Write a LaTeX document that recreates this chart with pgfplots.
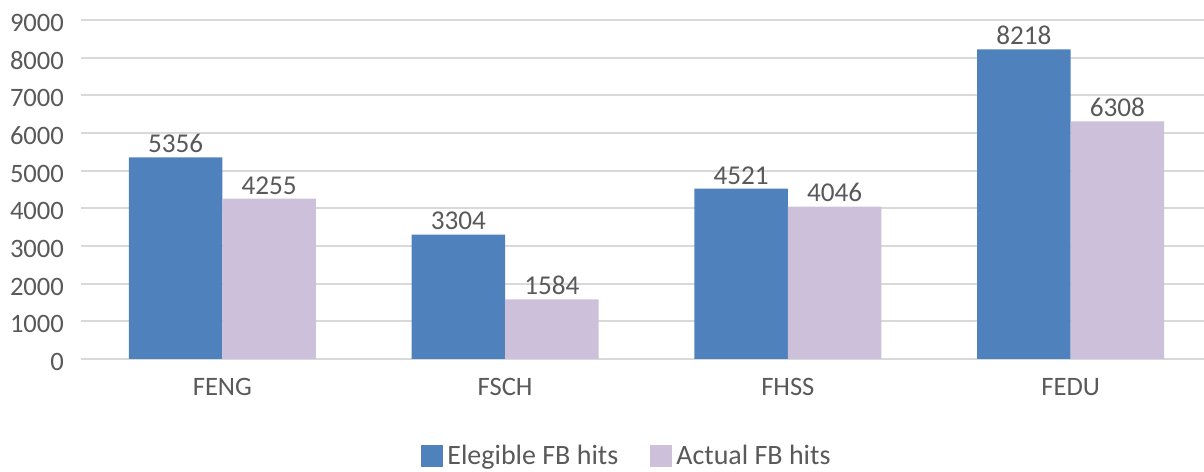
\documentclass[border=0pt]{standalone}
\usepackage{pgfplots}
\pgfplotsset{compat=1.18}
\usepackage{fontspec}
\setmainfont{Carlito}
\definecolor{cblue}{HTML}{4F81BD}
\definecolor{cpurp}{HTML}{CCC0DA}
\definecolor{cgrid}{HTML}{D9D9D9}
\definecolor{ctext}{HTML}{595959}
\begin{document}
\begin{tikzpicture}
\begin{axis}[
  scale only axis, width=565.5pt, height=169.5pt,
  xmin=-0.5, xmax=3.5, ymin=0, ymax=9000,
  ybar=0pt, bar width=46.75pt,
  xtick={0,1,2,3}, xticklabels={FENG,FSCH,FHSS,FEDU},
  ytick={0,1000,...,9000},
  axis line style={draw=none}, major tick length=0pt,
  ymajorgrids, grid style={cgrid, line width=1pt},
  tick label style={font=\fontsize{13.3}{15}\selectfont, text=ctext},
  xticklabel style={yshift=-6pt},
  yticklabel style={xshift=-5pt, yshift=-1.5pt},
  /pgf/number format/assume math mode=true,
  /pgf/number format/1000 sep={},
  nodes near coords,
  nodes near coords style={font=\fontsize{13.6}{15}\selectfont, text=ctext, /pgf/number format/assume math mode=true, inner sep=2pt},
  legend style={at={(0.4836,-0.287)}, anchor=center, draw=none, fill=none,
    font=\fontsize{14}{16}\selectfont, text=ctext, legend columns=2,
    /tikz/every even column/.append style={column sep=14pt}},
  legend image code/.code={\fill[#1] (0pt,-5.5pt) rectangle (11pt,5.5pt);},
]
\addplot[fill=cblue, draw=none] coordinates {(0,5356) (1,3304) (2,4521) (3,8218)};
\addplot[fill=cpurp, draw=none] coordinates {(0,4255) (1,1584) (2,4046) (3,6308)};
\legend{Elegible FB hits, Actual FB hits}
\end{axis}
\pgfresetboundingbox
\path[use as bounding box] ([shift={(-40.5pt,-56.5pt)}]current axis.south west) rectangle ([shift={(-4pt,10pt)}]current axis.north east);
\end{tikzpicture}
\end{document}
